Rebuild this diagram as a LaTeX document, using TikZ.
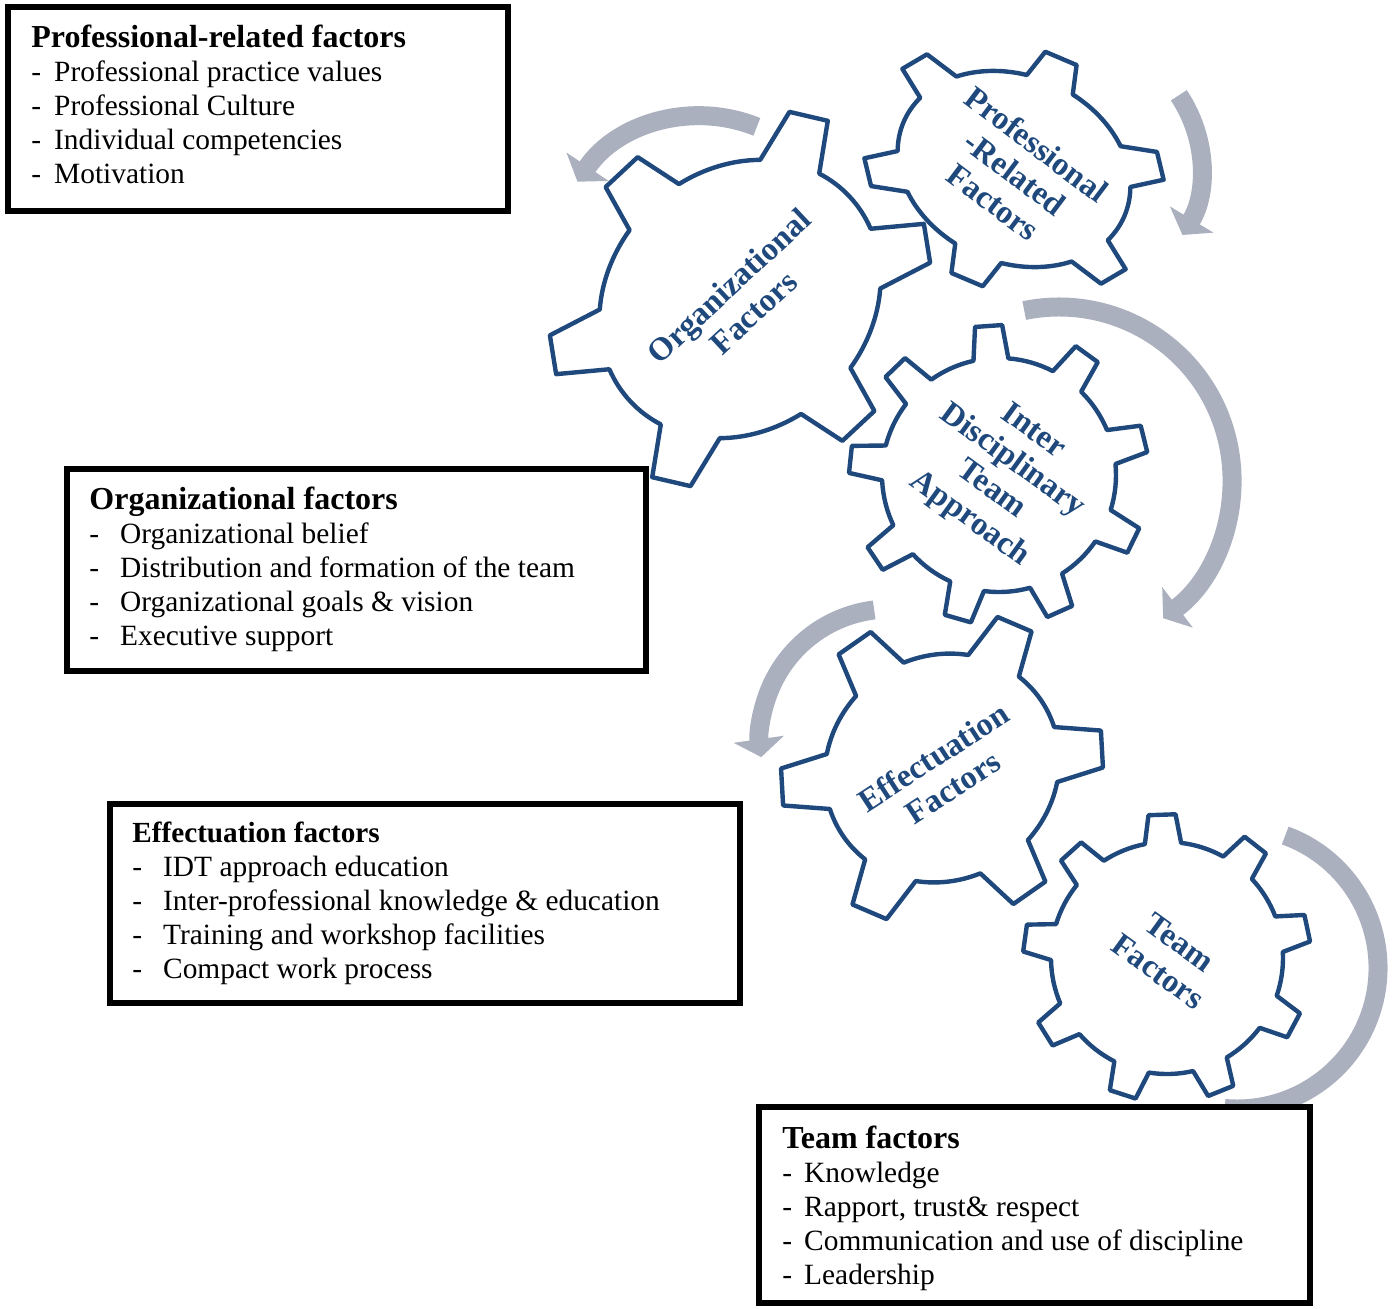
\documentclass[tikz,border=0pt]{standalone}
\usepackage{fontspec}
\setmainfont{Liberation Serif}
\usepackage{xcolor}
\usetikzlibrary{arrows.meta,positioning}

\definecolor{gearblue}{RGB}{31,73,125}
\definecolor{turngray}{RGB}{171,176,191}

% gear outline: teeth, inner r, outer r, first tooth angle, tip half angle, base half angle
\newcommand{\drawgear}[6]{%
  \draw[gearline] (#4-#6:#2)
    \foreach \k [evaluate=\k as \a using #4+(\k-1)*360/#1] in {1,...,#1}{
      -- (\a-#6:#2) -- (\a-#5:#3) -- (\a+#5:#3) -- (\a+#6:#2)
      arc[start angle=\a+#6, end angle=\a+360/#1-#6, radius=#2]
    } -- cycle;
}
\newcommand{\boxhead}[2]{\multicolumn{2}{@{}l@{}}{\fontsize{#1}{17}\selectfont\bfseries #2}}

\tikzset{
  gearline/.style={draw=gearblue, line width=2.2pt, line join=round},
  gearlabel/.style={text=gearblue, font=\bfseries\fontsize{16.3}{18}\selectfont, align=center, inner sep=0pt},
  turn/.style={draw=turngray, line width=9.5pt, -{Triangle[width=25pt,length=9pt]}},
  factbox/.style={draw=black, line width=3pt, fill=white, inner sep=0pt},
  factlist/.style={anchor=base west, inner sep=0pt, font=\fontsize{14.7}{17}\selectfont}
}

\begin{document}
\begin{tikzpicture}[x=0.5pt, y=0.5pt]

\useasboundingbox (0,0) rectangle (1397,-1308);

% ===== Turning arrows =====

\coordinate (orgturn) at (701,-265);
\coordinate (proturn) at (1071,-168);
\coordinate (idtturn) at (1059,-480);
\coordinate (effturn) at (890,-739);
\coordinate (teamturn) at (1237,-968);

\draw[turn] ([shift={(68:149)}]orgturn) arc[start angle=68, end angle=146, radius=149];
\draw[turn] ([shift={(34:130)}]proturn) arc[start angle=34, end angle=-31, radius=130];
\draw[turn] ([shift={(101.6:173)}]idtturn) arc[start angle=101.6, end angle=-53, radius=173];
\draw[turn] ([shift={(97:130)}]effturn) arc[start angle=97, end angle=188, radius=130];
\draw[turn, -] ([shift={(70:141)}]teamturn) arc[start angle=70, end angle=-95, radius=141];

% ===== Gears =====

\begin{scope}[shift={(740,-299)}, rotate=133, xscale=0.86, rotate=-133]
  \drawgear{6}{150}{203}{13}{6.2}{13}
\end{scope}

\begin{scope}[shift={(1014,-169)}, rotate=67, xscale=0.78, rotate=-67]
  \drawgear{6}{120}{155}{7}{6.3}{12}
\end{scope}

\begin{scope}[shift={(999,-475)}]
  \drawgear{9}{117}{150}{14}{5.2}{8.6}
\end{scope}

\begin{scope}[shift={(942,-768)}, rotate=125, xscale=0.93, rotate=-125]
  \drawgear{6}{120}{165}{5}{6.8}{14}
\end{scope}

\begin{scope}[shift={(1167,-958)}]
  \drawgear{9}{116}{144}{12}{5.4}{9}
\end{scope}

% ===== Gear labels =====

\node[gearlabel, rotate=43] (orglbl) at (741,-299) {Organizational\\Factors};
\node[gearlabel, rotate=-37] (prolbl) at (1015,-173) {Professional\\-Related\\Factors};
\node[gearlabel, rotate=-36] (idtlbl) at (1001,-476) {Inter\\Disciplinary\\Team\\Approach};
\node[gearlabel, rotate=33] (efflbl) at (943,-772) {Effectuation\\Factors};
\node[gearlabel, rotate=-36] (teamlbl) at (1169,-957) {Team\\Factors};

% ===== Factor boxes =====

\node[factbox, minimum width=250pt, minimum height=102pt] (probox) at (258,-109) {};
\node[factbox, minimum width=289.5pt, minimum height=101pt] (orgbox) at (356.5,-570) {};
\node[factbox, minimum width=315pt, minimum height=99.5pt] (effbox) at (425,-903.5) {};
\node[factbox, minimum width=275.5pt, minimum height=98pt] (teambox) at (1034.5,-1205) {};

\node[factlist] (protxt) at (31,-47) {\begin{tabular}[t]{@{}l@{\hspace{6.5pt}}l@{}}
  \boxhead{16}{Professional-related factors}\\
  - & Professional practice values\\
  - & Professional Culture\\
  - & Individual competencies\\
  - & Motivation
\end{tabular}};

\node[factlist] (orgtxt) at (89,-509) {\begin{tabular}[t]{@{}l@{\hspace{10.5pt}}l@{}}
  \boxhead{16}{Organizational factors}\\
  - & Organizational belief\\
  - & Distribution and formation of the team\\
  - & Organizational goals \& vision\\
  - & Executive support
\end{tabular}};

\node[factlist] (efftxt) at (132,-842) {\begin{tabular}[t]{@{}l@{\hspace{10.5pt}}l@{}}
  \boxhead{14.6}{Effectuation factors}\\
  - & IDT approach education\\
  - & Inter-professional knowledge \& education\\
  - & Training and workshop facilities\\
  - & Compact work process
\end{tabular}};

\node[factlist] (teamtxt) at (782,-1148) {\begin{tabular}[t]{@{}l@{\hspace{6pt}}l@{}}
  \boxhead{16}{Team factors}\\
  - & Knowledge\\
  - & Rapport, trust\& respect\\
  - & Communication and use of discipline\\
  - & Leadership
\end{tabular}};

\end{tikzpicture}
\end{document}
